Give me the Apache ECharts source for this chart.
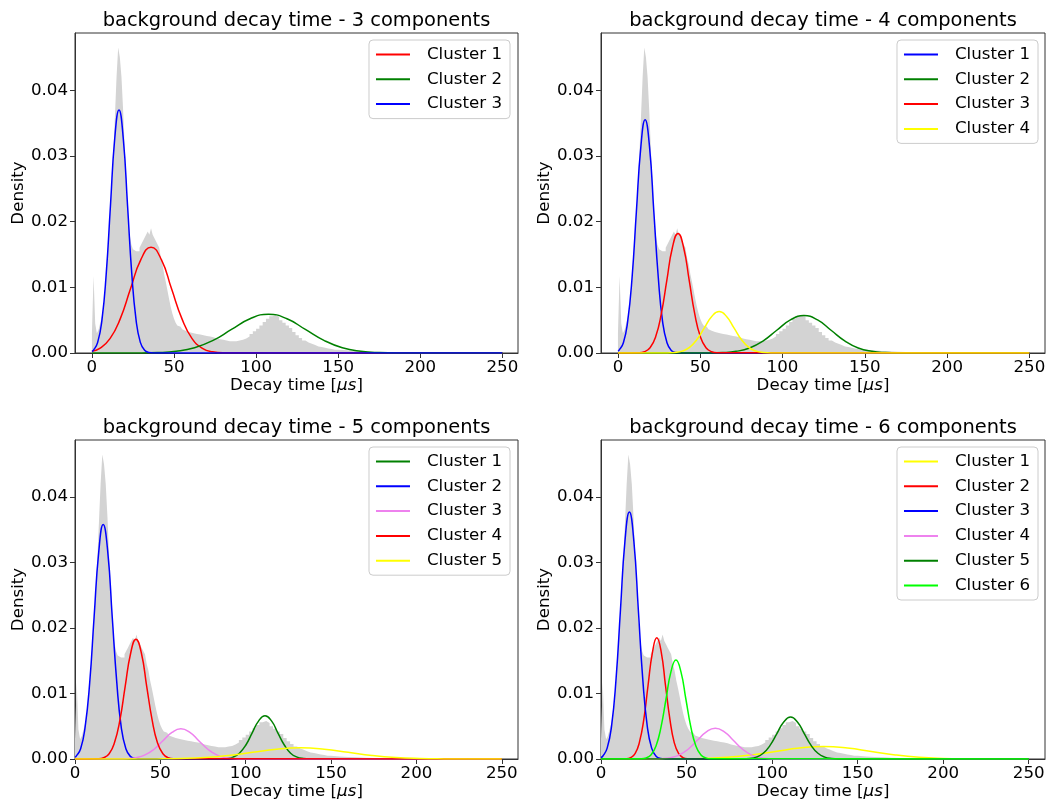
<!DOCTYPE html>
<html><head><meta charset="utf-8">
<script src="https://cdn.jsdelivr.net/npm/echarts@6/dist/echarts.min.js"></script>
<style>html,body{margin:0;padding:0;background:#fff}#c{width:1049px;height:806px}</style>
</head><body><div id="c"></div>
<script>
// ---------------- DATA ----------------
const xTicks = [0, 50, 100, 150, 200, 250];
const yTicks = [0, 0.01, 0.02, 0.03, 0.04];
const titles = [
  'background decay time - 3 components',
  'background decay time - 4 components',
  'background decay time - 5 components',
  'background decay time - 6 components'
];
const clusterNames3 = ['Cluster 1', 'Cluster 2', 'Cluster 3'];
const clusterNames4 = ['Cluster 1', 'Cluster 2', 'Cluster 3', 'Cluster 4'];
const clusterNames5 = ['Cluster 1', 'Cluster 2', 'Cluster 3', 'Cluster 4', 'Cluster 5'];
const clusterNames6 = ['Cluster 1', 'Cluster 2', 'Cluster 3', 'Cluster 4', 'Cluster 5', 'Cluster 6'];

// histogram (shared by all panels): bin left edges and densities
const histEdges = [0,1,2,3,4,5,6,7,8,9,10,11,12,13,14,15,16,17,18,19,20,21,22,23,24,25,26,27,28,29,30,
  31,32,33,34,35,36,37,38,39,40,41,42,43,44,45,46,47,48,49,50,51,52,53,54,55,56,57,58,59,60,
  62,64,66,68,70,72,74,76,78,80,82,84,86,88,90,92,94,96,98,100,102,104,106,108,110,112,114,116,118,120,
  122,124,126,128,130,132,134,136,138,140,142,144,146,148,150,155,160,165,170,175,180,185,190];
const histDensity = [0.003,0.0117,0.0045,0.003,0.0035,0.0045,0.0055,0.007,0.0095,0.013,0.017,0.021,0.025,0.030,0.036,0.042,0.0465,0.045,0.042,0.037,0.031,
  0.026,0.021,0.018,0.0165,0.0158,0.0155,0.0152,0.0155,0.016,0.0165,0.017,0.0175,0.018,0.0185,0.018,0.019,0.018,0.0175,0.017,0.0165,
  0.016,0.0145,0.0135,0.012,0.0108,0.0095,0.0082,0.007,0.006,0.0052,0.0046,0.0042,0.004,0.0038,0.0036,0.0034,0.0033,0.0032,0.0031,0.003,
  0.0029,0.0028,0.0027,0.0026,0.0025,0.0024,0.0022,0.0021,0.002,0.0019,0.0018,0.0018,0.0018,0.0019,0.002,0.0022,0.0025,0.0029,0.0033,0.0037,
  0.0042,0.0047,0.0052,0.0056,0.0058,0.0055,0.005,0.0046,0.0042,0.0038,0.0032,0.0027,0.0023,0.0019,0.0016,0.0014,0.0012,0.001,0.0009,0.0008,
  0.0007,0.0006,0.0005,0.0005,0.0004,0.0003,0.00025,0.0002,0.00015,0.0001,0.0001,0.00005,0];

// fitted component curves: [decay time, density]
// panel 1 (3 components)
const p1_c1 = [[0,0.00025],[4.8,0.00071],[11,0.00218],[17.3,0.00523],[23.5,0.00976],[29.8,0.01421],[36,0.0161],[42.3,0.01421],[48.5,0.00976],[54.8,0.00523],[61,0.00218],[67.3,0.00071],[73.5,0.00018],[79.8,0.00004],[250,0]];
const p1_c2 = [[0,0],[28.8,0.000013],[40,0.000065],[51.3,0.00026],[62.5,0.0008],[73.8,0.00192],[85,0.00358],[96.3,0.00521],[107.5,0.0059],[118.8,0.00521],[130,0.00358],[141.3,0.00192],[152.5,0.0008],[163.8,0.00026],[175,0.000065],[186.3,0.000013],[250,0]];
const p1_c3 = [[0,0.00024],[0.9,0.00041],[3.5,0.00162],[6.1,0.00501],[8.7,0.01201],[11.3,0.02244],[13.9,0.03265],[16.5,0.037],[19.1,0.03265],[21.7,0.02244],[24.3,0.01201],[26.9,0.00501],[29.5,0.00162],[32.1,0.00041],[34.7,0.00008],[37.3,0.00001],[250,0]];
// panel 2 (4 components)
const p2_c1 = [[0,0.00028],[0.6,0.00039],[3.3,0.00156],[5.9,0.0048],[8.6,0.01153],[11.2,0.02153],[13.9,0.03133],[16.5,0.0355],[19.2,0.03133],[21.8,0.02153],[24.5,0.01153],[27.1,0.0048],[29.8,0.00156],[32.4,0.00039],[35.1,0.00008],[37.7,0.00001],[250,0]];
const p2_c2 = [[0,0],[55.3,0.000013],[63.5,0.000063],[71.8,0.00025],[80,0.00077],[88.3,0.00185],[96.5,0.00346],[104.8,0.00503],[113,0.0057],[121.3,0.00503],[129.5,0.00346],[137.8,0.00185],[146,0.00077],[154.3,0.00025],[162.5,0.000063],[170.8,0.000013],[250,0]];
const p2_c3 = [[0,0],[12.7,0.00004],[16.1,0.0002],[19.5,0.0008],[22.9,0.00246],[26.3,0.00591],[29.7,0.01104],[33.1,0.01606],[36.5,0.0182],[39.9,0.01606],[43.3,0.01104],[46.7,0.00591],[50.1,0.00246],[53.5,0.0008],[56.9,0.0002],[60.3,0.00004],[250,0]];
const p2_c4 = [[0,0],[30,0.000014],[34.5,0.00007],[39,0.00028],[43.5,0.00085],[48,0.00205],[52.5,0.00382],[57,0.00556],[61.5,0.0063],[66,0.00556],[70.5,0.00382],[75,0.00205],[79.5,0.00085],[84,0.00028],[88.5,0.00007],[93,0.000014],[250,0]];
// panel 3 (5 components)
const p3_c1 = [[0,0],[85.1,0.000015],[88.8,0.000073],[92.6,0.00029],[96.3,0.00089],[100.1,0.00214],[103.8,0.004],[107.6,0.00582],[111.3,0.0066],[115.1,0.00582],[118.8,0.004],[122.6,0.00214],[126.3,0.00089],[130.1,0.00029],[133.8,0.000073],[137.6,0.000015],[250,0]];
const p3_c2 = [[0,0.00028],[0.6,0.0004],[3.3,0.00157],[5.9,0.00484],[8.6,0.01162],[11.2,0.02171],[13.9,0.03159],[16.5,0.0358],[19.2,0.03159],[21.8,0.02171],[24.5,0.01162],[27.1,0.00484],[29.8,0.00157],[32.4,0.0004],[35.1,0.00008],[37.7,0.00001],[250,0]];
const p3_c3 = [[0,0],[25.3,0.00001],[30.5,0.000051],[35.8,0.0002],[41,0.00062],[46.3,0.00149],[51.5,0.00279],[56.8,0.00406],[62,0.0046],[67.3,0.00406],[72.5,0.00279],[77.8,0.00149],[83,0.00062],[88.3,0.0002],[93.5,0.000051],[98.8,0.00001],[250,0]];
const p3_c4 = [[0,0],[13.7,0.00004],[16.8,0.0002],[20,0.0008],[23.1,0.00248],[26.3,0.00594],[29.4,0.0111],[32.6,0.01615],[35.7,0.0183],[38.9,0.01615],[42,0.0111],[45.2,0.00594],[48.3,0.00248],[51.5,0.0008],[54.6,0.0002],[57.8,0.00004],[250,0]];
const p3_c5 = [[0,0],[34,0.000004],[48,0.000019],[62,0.000075],[76,0.00023],[90,0.00055],[104,0.00103],[118,0.0015],[132,0.0017],[146,0.0015],[160,0.00103],[174,0.00055],[188,0.00023],[202,0.000075],[216,0.000019],[230,0.000004],[250,0]];
// panel 4 (6 components)
const p4_c1 = [[0,0],[32,0.000004],[46,0.000021],[60,0.000083],[74,0.00026],[88,0.00062],[102,0.00115],[116,0.00168],[130,0.0019],[144,0.00168],[158,0.00115],[172,0.00062],[186,0.00026],[200,0.000083],[214,0.000021],[228,0.000004],[250,0]];
const p4_c2 = [[0,0],[14.8,0.00004],[17.3,0.00021],[19.9,0.00081],[22.4,0.0025],[25,0.00601],[27.5,0.01122],[30.1,0.01633],[32.6,0.0185],[35.2,0.01633],[37.7,0.01122],[40.3,0.00601],[42.8,0.0025],[45.4,0.00081],[47.9,0.00021],[50.5,0.00004],[250,0]];
const p4_c3 = [[0,0.00023],[1,0.00042],[3.6,0.00166],[6.2,0.0051],[8.8,0.01224],[11.4,0.02287],[14,0.03327],[16.6,0.0377],[19.2,0.03327],[21.8,0.02287],[24.4,0.01224],[27,0.0051],[29.6,0.00166],[32.2,0.00042],[34.8,0.00008],[37.4,0.00001],[250,0]];
const p4_c4 = [[0,0],[30.1,0.00001],[35.3,0.000052],[40.6,0.00021],[45.8,0.00064],[51.1,0.00153],[56.3,0.00285],[61.6,0.00415],[66.8,0.0047],[72.1,0.00415],[77.3,0.00285],[82.6,0.00153],[87.8,0.00064],[93.1,0.00021],[98.3,0.000052],[103.6,0.00001],[250,0]];
const p4_c5 = [[0,0],[82.8,0.000014],[86.8,0.000071],[90.8,0.00028],[94.8,0.00087],[98.8,0.00208],[102.8,0.00388],[106.8,0.00565],[110.8,0.0064],[114.8,0.00565],[118.8,0.00388],[122.8,0.00208],[126.8,0.00087],[130.8,0.00028],[134.8,0.000071],[138.8,0.000014],[250,0]];
const p4_c6 = [[0,0],[23.5,0.000033],[26.4,0.00017],[29.3,0.00066],[32.2,0.00204],[35.1,0.0049],[38,0.00916],[40.9,0.01333],[43.8,0.0151],[46.7,0.01333],[49.6,0.00916],[52.5,0.0049],[55.4,0.00204],[58.3,0.00066],[61.2,0.00017],[64.1,0.000033],[250,0]];

// ---------------- LAYOUT / STYLE ----------------
const FONT = 'DejaVu Sans';
const FS = 16.67;
const panels = [
  {grid:{left:75, top:33, width:443, height:320}, xmin:-10.3, legend:{right:539, top:40},
   names:clusterNames3, curves:[p1_c1,p1_c2,p1_c3], colors:['#ff0000','#008000','#0000ff'], title:{x:296.5, y:11}},
  {grid:{left:601, top:33, width:444, height:320}, xmin:-10.3, legend:{right:11, top:40},
   names:clusterNames4, curves:[p2_c1,p2_c2,p2_c3,p2_c4], colors:['#0000ff','#008000','#ff0000','#ffff00'], title:{x:823, y:11}},
  {grid:{left:75, top:440, width:443, height:319}, xmin:0, legend:{right:539, top:447},
   names:clusterNames5, curves:[p3_c1,p3_c2,p3_c3,p3_c4,p3_c5], colors:['#008000','#0000ff','#ee82ee','#ff0000','#ffff00'], title:{x:296.5, y:418}},
  {grid:{left:601, top:440, width:444, height:319}, xmin:0, legend:{right:11, top:447},
   names:clusterNames6, curves:[p4_c1,p4_c2,p4_c3,p4_c4,p4_c5,p4_c6], colors:['#ffff00','#ff0000','#0000ff','#ee82ee','#008000','#00ff00'], title:{x:823, y:418}}
];

const histData = histEdges.map((e, i) => [e, histDensity[i]]);
const option = {animation:false, backgroundColor:'#fff', textStyle:{fontFamily:FONT},
  title:[], grid:[], xAxis:[], yAxis:[], series:[], legend:[]};

panels.forEach((p, gi) => {
  option.title.push({text:titles[gi], left:p.title.x, top:p.title.y, textAlign:'center', padding:0,
    textStyle:{fontSize:19.44, fontWeight:'normal', color:'#000', fontFamily:FONT}});
  option.grid.push(Object.assign({show:true, borderColor:'#333', borderWidth:1, backgroundColor:'transparent', containLabel:false}, p.grid));
  option.xAxis.push({type:'value', gridIndex:gi, min:p.xmin, max:259.5,
    axisLine:{show:true, onZero:false, lineStyle:{color:'#333', width:1}},
    axisTick:{show:true, length:5, customValues:xTicks, lineStyle:{color:'#333', width:1}},
    axisLabel:{customValues:xTicks, fontSize:FS, color:'#000', fontFamily:FONT, margin:6},
    splitLine:{show:false},
    name:'{n|Decay time [}{i|μs}{n|]}', nameLocation:'middle', nameGap:21,
    nameTextStyle:{fontSize:FS, color:'#000', fontFamily:FONT,
      rich:{n:{fontSize:FS, color:'#000', fontFamily:FONT}, i:{fontSize:FS, color:'#000', fontFamily:FONT, fontStyle:'italic'}}}});
  option.yAxis.push({type:'value', gridIndex:gi, min:0, max:0.0487,
    axisLine:{show:true, onZero:false, lineStyle:{color:'#333', width:1}},
    axisTick:{show:true, length:5, customValues:yTicks, lineStyle:{color:'#333', width:1}},
    axisLabel:{customValues:yTicks, fontSize:FS, color:'#000', fontFamily:FONT, margin:7, formatter:v => v.toFixed(2)},
    splitLine:{show:false},
    name:'Density', nameLocation:'middle', nameGap:48, nameRotate:90,
    nameTextStyle:{fontSize:FS, color:'#000', fontFamily:FONT}});
  option.series.push({type:'line', xAxisIndex:gi, yAxisIndex:gi, data:histData, step:'end', symbol:'none',
    silent:true, z:1, lineStyle:{width:0, opacity:0}, areaStyle:{color:'#d3d3d3', opacity:1}});
  const legendNames = [];
  p.curves.forEach((c, ci) => {
    const nm = p.names[ci] + '#' + gi;
    legendNames.push({name:nm, icon:'rect'});
    option.series.push({type:'line', name:nm, xAxisIndex:gi, yAxisIndex:gi, data:c, smooth:0.5,
      symbol:'none', z:3, lineStyle:{color:p.colors[ci], width:1.5}, itemStyle:{color:p.colors[ci]}});
  });
  option.legend.push({data:legendNames, orient:'vertical', right:p.legend.right, top:p.legend.top,
    itemWidth:34, itemHeight:2, itemGap:7.8, padding:[6,8,6,7], selectedMode:false,
    backgroundColor:'rgba(255,255,255,0.8)', borderColor:'#cccccc', borderWidth:1, borderRadius:4,
    textStyle:{fontSize:FS, color:'#000', fontFamily:FONT, padding:[0,0,0,12]},
    formatter:n => n.split('#')[0]});
});

const chart = echarts.init(document.getElementById('c'), null, {renderer:'canvas'});
chart.setOption(option);
</script></body></html>
